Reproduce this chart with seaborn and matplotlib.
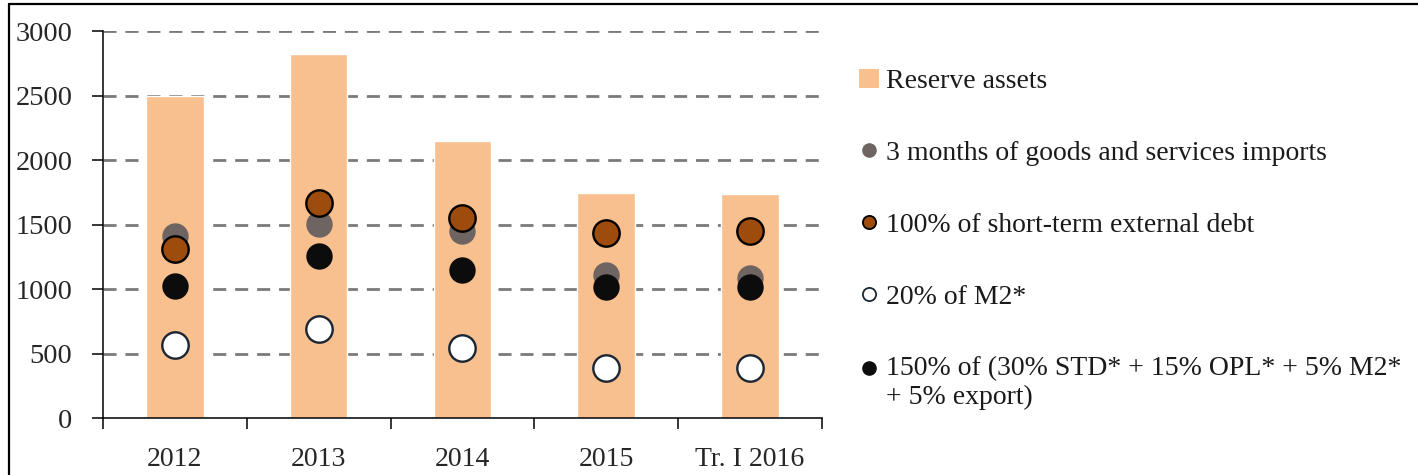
import matplotlib
matplotlib.use("Agg")
import matplotlib.pyplot as plt
from matplotlib.lines import Line2D
from matplotlib.patches import Patch
from matplotlib.ticker import FixedLocator
import seaborn as sns
import pandas as pd

# data
categories = ["2012", "2013", "2014", "2015", "Tr. I 2016"]
reserve_assets = [2500, 2820, 2150, 1745, 1735]
imports_3m = [1410, 1505, 1450, 1110, 1085]
short_term_debt = [1310, 1670, 1550, 1435, 1448]
m2_20pct = [565, 690, 540, 385, 385]
composite = [1025, 1255, 1145, 1015, 1015]

labels = [
    "Reserve assets",
    "3 months of goods and services imports",
    "100% of short-term external debt",
    "20% of M2*",
    "150% of (30% STD* + 15% OPL* + 5% M2*\n+ 5% export)",
]

bar_color = "#F8BF8F"
grey_color = "#6E6461"
brown_color = "#9E4B0E"
black_color = "#0C0C0C"
navy_edge = "#1B2633"

sns.set_style("white")
plt.rcParams["font.family"] = ["Liberation Serif", "DejaVu Serif"]
plt.rcParams["text.color"] = "#1a1a1a"

df = pd.DataFrame({"period": categories, "reserve": reserve_assets})

fig = plt.figure(figsize=(14.18, 4.75), dpi=100)
ax = fig.add_axes([0.0726, 0.12, 0.507, 0.8147])

sns.barplot(data=df, x="period", y="reserve", order=categories, color=bar_color,
            saturation=1, width=0.4, ax=ax, zorder=2)

# dots: draw order matters where they overlap
series = [
    (imports_3m, grey_color, grey_color, 0),
    (short_term_debt, brown_color, "black", 1.7),
    (m2_20pct, "white", navy_edge, 1.7),
    (composite, black_color, black_color, 0),
]
for vals, fc, ec, lw in series:
    sns.stripplot(x=categories, y=vals, order=categories, jitter=False, color=fc,
                  edgecolor=ec, linewidth=lw, size=19, ax=ax, zorder=4)

ax.set_ylim(0, 3000)
ax.set_xlim(-0.5, 4.5)
ax.set_yticks(range(0, 3001, 500))
ax.set_xlabel("")
ax.set_ylabel("")

ax.yaxis.grid(True, color="#7a7a7a", linewidth=2.0, linestyle=(0, (4.7, 3.2)))
ax.set_axisbelow(True)
for line in ax.get_ygridlines()[:1]:
    line.set_visible(False)

sns.despine(ax=ax)
for side in ["left", "bottom"]:
    ax.spines[side].set_color("black")
    ax.spines[side].set_linewidth(1.1)

ax.xaxis.set_minor_locator(FixedLocator([i - 0.5 for i in range(len(categories) + 1)]))
ax.tick_params(axis="x", which="major", length=0, pad=21, labelsize=20)
ax.tick_params(axis="x", which="minor", length=8, width=1.1, color="black", direction="out", bottom=True)
ax.tick_params(axis="y", length=8, width=1.1, color="black", direction="out", left=True, pad=14, labelsize=20.5)

handles = [
    Patch(facecolor=bar_color, edgecolor="none"),
    Line2D([], [], marker="o", linestyle="none", markersize=9.5, markerfacecolor=grey_color, markeredgecolor=grey_color),
    Line2D([], [], marker="o", linestyle="none", markersize=9.5, markerfacecolor=brown_color, markeredgecolor="black", markeredgewidth=1.3),
    Line2D([], [], marker="o", linestyle="none", markersize=9.5, markerfacecolor="white", markeredgecolor=navy_edge, markeredgewidth=1.3),
    Line2D([], [], marker="o", linestyle="none", markersize=9.5, markerfacecolor=black_color, markeredgecolor=black_color),
]
leg = fig.legend(handles, labels, loc="upper left", bbox_to_anchor=(0.606, 0.855), frameon=False,
                 fontsize=20, labelspacing=1.67, handlelength=0.7, handleheight=0.7,
                 handletextpad=0.25, borderpad=0, borderaxespad=0)

# the two-line entry keeps its marker next to the first line
last = leg.legend_handles[-1]
last.set_ydata([y + 11 for y in last.get_ydata()])

# frame lines at top and left of the picture
fig.add_artist(Line2D([0.0065, 1.0], [0.991, 0.991], color="black", linewidth=1.6))
fig.add_artist(Line2D([0.0065, 0.0065], [0.0, 0.991], color="black", linewidth=1.6))

fig.savefig("out.png", dpi=100)
